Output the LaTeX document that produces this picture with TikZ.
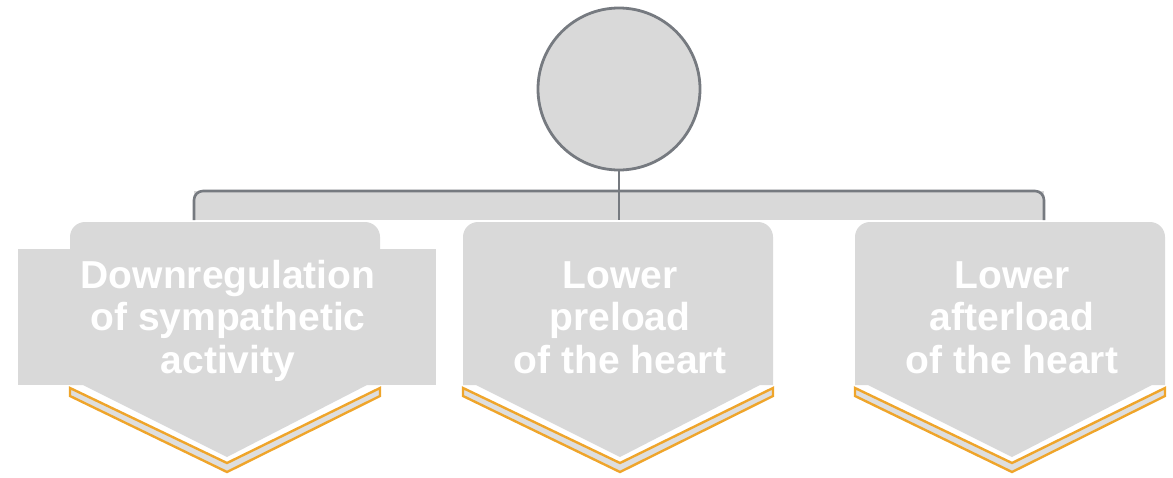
\documentclass[tikz,border=0pt]{standalone}
\usepackage{fontspec}
\setmainfont{Liberation Sans}
\definecolor{cfill}{HTML}{D9D9D9}
\definecolor{cline}{HTML}{767A80}
\definecolor{corange}{HTML}{EFA52B}
\definecolor{cstrip}{HTML}{DEDEDE}
\begin{document}
\begin{tikzpicture}[x=1pt,y=-1pt,
  lbl/.style={text=white,font=\fontsize{39}{42.5}\selectfont\bfseries,align=center,inner sep=0pt,anchor=base},
  strip/.style={draw=corange,fill=cstrip,line width=2.4pt,line join=miter},
  conn/.style={draw=cline,line width=2.6pt}]
\useasboundingbox (0,0) rectangle (1173,477);
% top circle
\node[circle,draw=cline,fill=cfill,line width=2.8pt,minimum size=162pt,inner sep=0pt] (top) at (619,89) {};
% bracket
\fill[cfill] (194,191) rectangle (1044,220);
\draw[conn,rounded corners=9pt] (194,220) -- (194,191) -- (1044,191) -- (1044,220);
\coordinate (hub) at (619,220);
\draw[conn] (top.south) -- (hub);
% wide band behind the first chevron
\fill[cfill] (18,249) rectangle (436,385);
% chevrons
\foreach \L in {70,463,855}{
  \fill[cfill] (\L,385) [rounded corners=15pt]-- (\L,222) -- ({\L+310},222) [sharp corners]-- ({\L+310},385)
     -- ({\L+297},385) -- ({\L+157},457) -- ({\L+13},385) -- cycle;
  \draw[strip] (\L,388) -- ({\L+157},463) -- ({\L+310},388) -- ({\L+310},396) -- ({\L+157},472) -- (\L,396) -- cycle;
}
% labels
\node[lbl] (t1) at (228,373) {Downregulation\\of sympathetic\\activity};
\node[lbl] (t2) at (620,373) {Lower\\preload\\of the heart};
\node[lbl] (t3) at (1012,373) {Lower\\afterload\\of the heart};
\end{tikzpicture}
\end{document}
